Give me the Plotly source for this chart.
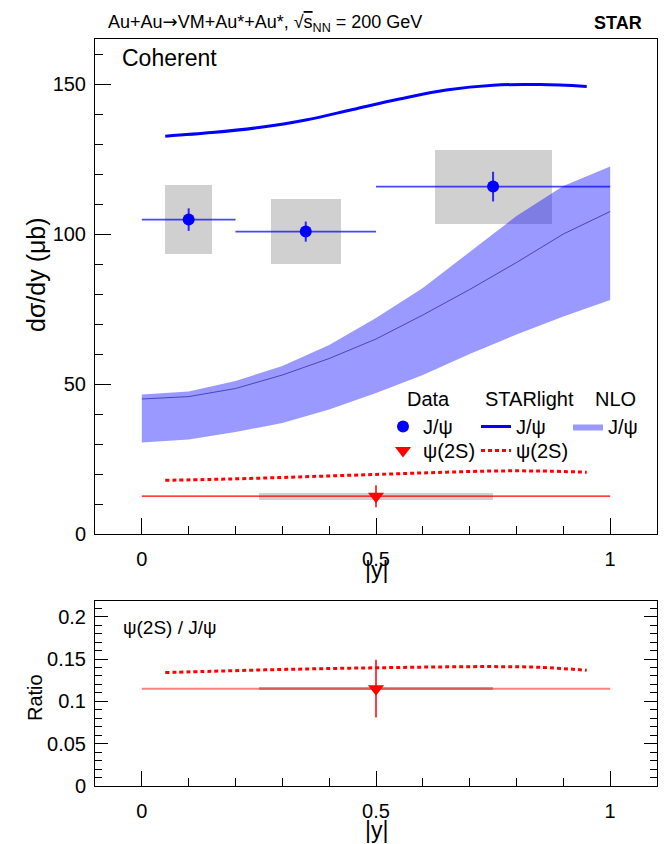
import plotly.graph_objects as go

# ---------------- data ----------------
jpsi_x = [0.1, 0.35, 0.75]
jpsi_xlo = [0.0, 0.2, 0.5]
jpsi_xhi = [0.2, 0.5, 1.0]
jpsi_y = [104.8, 100.8, 115.8]
jpsi_stat = [3.75, 3.35, 4.95]
jpsi_sys = [11.6, 10.75, 12.3]

psi2s_x = [0.5]
psi2s_xlo = [0.0]
psi2s_xhi = [1.0]
psi2s_y = [12.6]
psi2s_stat = [3.65]
psi2s_sys = [1.1]

ratio_y = [0.115]
ratio_stat = [0.034]
ratio_sys = [0.0022]

sl_x = [0.05, 0.15, 0.25, 0.35, 0.45, 0.55, 0.65, 0.75, 0.85, 0.95]
sl_jpsi = [132.6, 133.8, 135.5, 138.0, 141.5, 145.0, 148.0, 149.6, 149.8, 149.2]
sl_psi2s = [17.9, 18.2, 18.6, 19.1, 19.6, 20.1, 20.6, 21.0, 21.0, 20.6]
sl_ratio = [0.134, 0.1355, 0.137, 0.1382, 0.1392, 0.140, 0.1407, 0.141, 0.1402, 0.1367]

nlo_x = [0.0, 0.1, 0.2, 0.3, 0.4, 0.5, 0.6, 0.7, 0.8, 0.9, 1.0]
nlo_hi = [46.5, 47.5, 51.0, 56.0, 63.0, 72.0, 82.0, 94.0, 106.0, 116.0, 122.5]
nlo_mid = [45.0, 45.8, 48.5, 53.0, 58.5, 65.0, 73.0, 81.5, 90.5, 100.0, 107.5]
nlo_lo = [30.5, 31.5, 34.0, 37.0, 41.5, 47.0, 53.0, 60.0, 66.5, 72.5, 78.0]

# ---------------- helpers (layout) ----------------
W, H = 670, 844
L, R, T, B = 87, 649, 31, 778


def fx(p):
    return (p - L) / (R - L)


def fy(p):
    return (B - p) / (B - T)


FONT = "Liberation Sans, Arial, Helvetica, sans-serif"
GREY = "#d0d0d0"

fig = go.Figure()

# systematic boxes (drawn first, below)
fig.add_trace(go.Bar(
    x=jpsi_x, y=[2 * s for s in jpsi_sys],
    base=[y - s for y, s in zip(jpsi_y, jpsi_sys)],
    width=[0.5 * (h - l) for h, l in zip(jpsi_xhi, jpsi_xlo)],
    marker=dict(color=GREY, line=dict(width=0)),
    showlegend=False, xaxis="x", yaxis="y", hoverinfo="skip"))
fig.add_trace(go.Bar(
    x=psi2s_x, y=[2 * s for s in psi2s_sys],
    base=[y - s for y, s in zip(psi2s_y, psi2s_sys)],
    width=[0.5 * (h - l) for h, l in zip(psi2s_xhi, psi2s_xlo)],
    marker=dict(color=GREY, line=dict(width=0)),
    showlegend=False, xaxis="x", yaxis="y", hoverinfo="skip"))
fig.add_trace(go.Bar(
    x=psi2s_x, y=[2 * s for s in ratio_sys],
    base=[y - s for y, s in zip(ratio_y, ratio_sys)],
    width=[0.5 * (h - l) for h, l in zip(psi2s_xhi, psi2s_xlo)],
    marker=dict(color="#b4b4b4", line=dict(width=0)),
    showlegend=False, xaxis="x2", yaxis="y2", hoverinfo="skip"))

# NLO band
fig.add_trace(go.Scatter(
    x=nlo_x + nlo_x[::-1], y=nlo_hi + nlo_lo[::-1],
    mode="lines", fill="toself", fillcolor="rgba(0,0,255,0.4)",
    line=dict(width=0, color="rgba(0,0,255,0.4)"),
    name="J/ψ", legend="legend5", xaxis="x", yaxis="y", hoverinfo="skip"))
fig.add_trace(go.Scatter(
    x=nlo_x, y=nlo_mid, mode="lines",
    line=dict(width=1, color="rgba(50,50,170,0.8)"),
    showlegend=False, xaxis="x", yaxis="y"))

# STARlight
fig.add_trace(go.Scatter(
    x=sl_x, y=sl_jpsi, mode="lines", line=dict(color="#0000ff", width=3),
    line_shape="spline", name="J/ψ", legend="legend3", xaxis="x", yaxis="y"))
fig.add_trace(go.Scatter(
    x=sl_x, y=sl_psi2s, mode="lines",
    line=dict(color="#ff0000", width=3, dash="4px,3px"),
    line_shape="spline", name="ψ(2S)", legend="legend4", xaxis="x", yaxis="y"))
fig.add_trace(go.Scatter(
    x=sl_x, y=sl_ratio, mode="lines",
    line=dict(color="#ff0000", width=3, dash="4px,3px"),
    line_shape="spline", showlegend=False, xaxis="x2", yaxis="y2"))

# data points
fig.add_trace(go.Scatter(
    x=jpsi_x, y=jpsi_y, mode="markers",
    marker=dict(symbol="circle", size=12, color="#0000ff"),
    error_x=dict(type="data", symmetric=False,
                 array=[h - x for h, x in zip(jpsi_xhi, jpsi_x)],
                 arrayminus=[x - l for x, l in zip(jpsi_x, jpsi_xlo)],
                 width=0, thickness=1.6, color="rgba(0,0,255,0.72)"),
    error_y=dict(type="data", array=jpsi_stat, width=0, thickness=2, color="rgba(0,0,255,0.8)"),
    name="J/ψ", legend="legend", xaxis="x", yaxis="y"))
fig.add_trace(go.Scatter(
    x=psi2s_x, y=psi2s_y, mode="markers",
    marker=dict(symbol="triangle-down", size=14, color="#ff0000"),
    error_x=dict(type="data", symmetric=False,
                 array=[h - x for h, x in zip(psi2s_xhi, psi2s_x)],
                 arrayminus=[x - l for x, l in zip(psi2s_x, psi2s_xlo)],
                 width=0, thickness=1.2, color="#ff0000"),
    error_y=dict(type="data", array=psi2s_stat, width=0, thickness=1.5, color="#ff0000"),
    name="ψ(2S)", legend="legend2", xaxis="x", yaxis="y"))
fig.add_trace(go.Scatter(
    x=psi2s_x, y=ratio_y, mode="markers",
    marker=dict(symbol="triangle-down", size=14, color="#ff0000"),
    error_x=dict(type="data", symmetric=False,
                 array=[h - x for h, x in zip(psi2s_xhi, psi2s_x)],
                 arrayminus=[x - l for x, l in zip(psi2s_x, psi2s_xlo)],
                 width=0, thickness=2, color="rgba(255,0,0,0.5)"),
    error_y=dict(type="data", array=ratio_stat, width=0, thickness=1.5, color="#ff0000"),
    showlegend=False, xaxis="x2", yaxis="y2"))

axis_common = dict(showgrid=False, zeroline=False, showline=True, linecolor="black",
                   linewidth=1, ticks="inside", tickcolor="black", tickwidth=1,
                   tickfont=dict(family=FONT, size=20, color="black"))

top_dom = [fy(526), 1.0]
bot_dom = [0.0, fy(593)]

legend_common = dict(bgcolor="rgba(0,0,0,0)", borderwidth=0,
                     font=dict(family=FONT, size=20, color="black"),
                     xanchor="left", yanchor="top", itemwidth=30)

row1_top, row2_top = 399, 423

fig.update_layout(
    width=W, height=H, plot_bgcolor="white", paper_bgcolor="white",
    margin=dict(l=L, r=W - R, t=T, b=H - B),
    barmode="overlay", bargap=0,
    font=dict(family=FONT, color="black"),
    xaxis=dict(axis_common, domain=[0, 1], anchor="y", range=[-0.1, 1.1],
               tickmode="linear", tick0=0, dtick=0.5, ticklen=16, mirror=True,
               ticklabelstandoff=7,
               minor=dict(tickmode="linear", tick0=0, dtick=0.1, ticklen=8,
                          ticks="inside", tickcolor="black")),
    yaxis=dict(axis_common, domain=top_dom, anchor="x", range=[0, 165],
               tickmode="linear", tick0=0, dtick=50, ticklen=16, mirror=True,
               ticklabelstandoff=4,
               minor=dict(tickmode="linear", tick0=0, dtick=10, ticklen=8,
                          ticks="inside", tickcolor="black")),
    xaxis2=dict(axis_common, domain=[0, 1], anchor="y2", range=[-0.1, 1.1],
                tickmode="linear", tick0=0, dtick=0.5, ticklen=15, mirror=True,
                ticklabelstandoff=7,
                minor=dict(tickmode="linear", tick0=0, dtick=0.1, ticklen=8,
                           ticks="inside", tickcolor="black")),
    yaxis2=dict(axis_common, domain=bot_dom, anchor="x2", range=[0, 0.2185],
                tickmode="linear", tick0=0, dtick=0.05, ticklen=13, mirror="allticks",
                ticklabelstandoff=4,
                minor=dict(tickmode="linear", tick0=0, dtick=0.01, ticklen=7,
                           ticks="inside", tickcolor="black")),
    legend=dict(legend_common, x=fx(375), y=fy(row1_top)),
    legend2=dict(legend_common, x=fx(375), y=fy(row2_top)),
    legend3=dict(legend_common, x=fx(468), y=fy(row1_top)),
    legend4=dict(legend_common, x=fx(468), y=fy(row2_top)),
    legend5=dict(legend_common, x=fx(560), y=fy(row1_top)),
    showlegend=True,
)

ann = [
    dict(text="Au+Au<span style='font-family:DejaVu Sans'>→</span>VM+Au*+Au*, "
              "√<span style='text-decoration:overline'>s</span><sub>NN</sub> = 200 GeV",
         x=fx(98), y=fy(15), xanchor="left", yanchor="middle", font=dict(size=18)),
    dict(text="<b>STAR</b>", x=fx(636), y=fy(15), xanchor="right", yanchor="middle",
         font=dict(size=18)),
    dict(text="Coherent", x=fx(112), y=fy(50), xanchor="left", yanchor="middle",
         font=dict(size=23)),
    dict(text="dσ/dy (μb)", x=fx(28), y=fy(267), xanchor="center", yanchor="middle",
         textangle=-90, font=dict(size=25)),
    dict(text="|y|", x=fx(368), y=fy(562), xanchor="center", yanchor="middle",
         font=dict(size=23)),
    dict(text="Data", x=fx(397), y=fy(391), xanchor="left", yanchor="middle",
         font=dict(size=20)),
    dict(text="STARlight", x=fx(475), y=fy(391), xanchor="left", yanchor="middle",
         font=dict(size=20)),
    dict(text="NLO", x=fx(585), y=fy(391), xanchor="left", yanchor="middle",
         font=dict(size=20)),
    dict(text="ψ(2S) / J/ψ", x=fx(113), y=fy(619), xanchor="left", yanchor="middle",
         font=dict(size=19)),
    dict(text="Ratio", x=fx(27), y=fy(690), xanchor="center", yanchor="middle",
         textangle=-90, font=dict(size=20)),
    dict(text="|y|", x=fx(368), y=fy(822), xanchor="center", yanchor="middle",
         font=dict(size=23)),
]
for a in ann:
    a.update(xref="paper", yref="paper", showarrow=False)
    a["font"] = dict(family=FONT, color="black", **a["font"])
fig.update_layout(annotations=ann)

fig.write_html("out.html")
